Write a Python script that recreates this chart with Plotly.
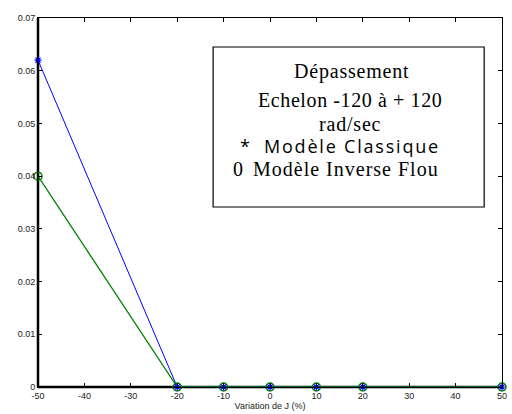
import plotly.graph_objects as go

# Variation of the inertia J (%) and overshoot for each controller
variation_j = [-50, -20, -10, 0, 10, 20, 50]
depassement_classique = [0.062, 0, 0, 0, 0, 0, 0]
depassement_flou = [0.040, 0, 0, 0, 0, 0, 0]

x_ticks = [-50, -40, -30, -20, -10, 0, 10, 20, 30, 40, 50]
x_tick_labels = ["-50", "-40", "-30", "-20", "-10", "0", "10", "20", "30", "40", "50"]
y_ticks = [0, 0.01, 0.02, 0.03, 0.04, 0.05, 0.06, 0.07]
y_tick_labels = ["0", "0.01", "0.02", "0.03", "0.04", "0.05", "0.06", "0.07"]

BLUE = "#0000ff"
GREEN = "#008000"

fig = go.Figure()
fig.add_trace(go.Scatter(x=variation_j, y=depassement_classique, mode="lines",
                         line=dict(color=BLUE, width=1), showlegend=False, cliponaxis=False))
fig.add_trace(go.Scatter(x=variation_j, y=depassement_flou, mode="lines+markers",
                         line=dict(color=GREEN, width=1.3), cliponaxis=False,
                         marker=dict(symbol="circle-open", size=8, color=GREEN,
                                     line=dict(width=1.5)),
                         showlegend=False))
fig.add_trace(go.Scatter(x=variation_j, y=depassement_classique, mode="markers",
                         cliponaxis=False,
                         marker=dict(symbol="asterisk-open", size=6, color=BLUE,
                                     line=dict(width=1.2, color=BLUE)),
                         showlegend=False))


def spaced(text, px):
    return f'<span style="letter-spacing:{px}px">{text}</span>'


# Text box with the test description and the marker key
serif = "Liberation Serif"
sans = "Open Sans"
fig.add_shape(type="rect", xref="x", yref="y", x0=-12.26, x1=46.16, y0=0.03415, y1=0.0645,
              line=dict(color="black", width=1.2), fillcolor="white", layer="above")
for txt, yy, xx, sp in [("Dépassement", 0.05976, 17.6, 0.8),
                        ("Echelon -120 à + 120", 0.05444, 17.2, 0.6),
                        ("rad/sec", 0.04989, 17.2, 0.8)]:
    fig.add_annotation(x=xx, y=yy, xref="x", yref="y", text=spaced(txt, sp), showarrow=False,
                       font=dict(family=serif, size=20, color="black"), xanchor="center")
fig.add_annotation(x=-6.8, y=0.04572, xref="x", yref="y", showarrow=False, xanchor="left",
                   text="*&nbsp;&nbsp;&nbsp;" + spaced("Modèle Classique", 1.8),
                   font=dict(family=sans, size=18, color="black"))
fig.add_annotation(x=-8.3, y=0.04136, xref="x", yref="y", showarrow=False, xanchor="left",
                   text="0&nbsp;&nbsp;" + spaced("Modèle Inverse Flou", 1.0),
                   font=dict(family=serif, size=20, color="black"))

# Thicker left and bottom axis lines
fig.add_shape(type="line", xref="paper", yref="paper", x0=0, x1=0, y0=0, y1=1,
              line=dict(color="black", width=2.5), layer="below")
fig.add_shape(type="line", xref="paper", yref="paper", x0=0, x1=1, y0=0, y1=0,
              line=dict(color="black", width=2.5), layer="below")

axis_font = dict(family="Liberation Sans", size=9, color="#222222")
fig.update_xaxes(range=[-50, 50], tickvals=x_ticks, ticktext=x_tick_labels, ticks="inside",
                 ticklen=4, tickcolor="black", showline=True, linecolor="black", linewidth=1,
                 mirror="ticks", showgrid=False, zeroline=False, tickfont=axis_font,
                 ticklabeloverflow="allow",
                 title=dict(text="Variation de J (%)", font=axis_font, standoff=2))
fig.update_yaxes(range=[0, 0.07], tickvals=y_ticks, ticktext=y_tick_labels, ticks="inside",
                 ticklen=4, tickcolor="black", showline=True, linecolor="black", linewidth=1,
                 mirror="ticks", showgrid=False, zeroline=False, tickfont=axis_font)

fig.update_layout(width=512, height=414, margin=dict(l=38, r=5, t=18, b=27),
                  plot_bgcolor="white", paper_bgcolor="white")

fig.write_html("out.html")
